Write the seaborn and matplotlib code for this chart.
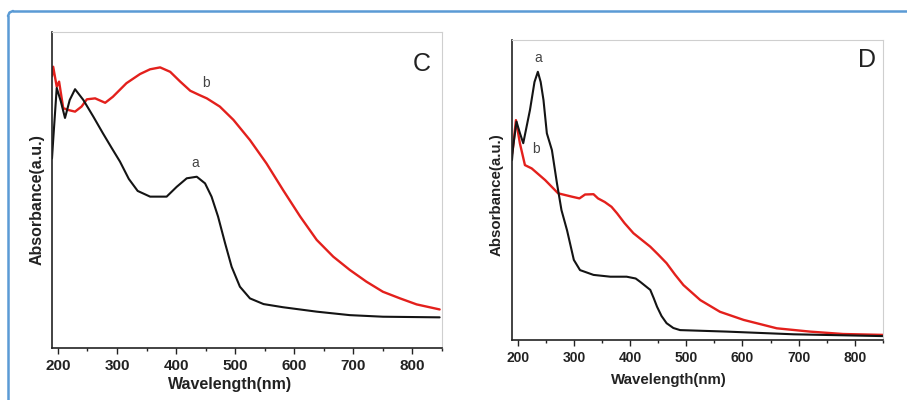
import numpy as np
import pandas as pd
import matplotlib
matplotlib.use("Agg")
import matplotlib.pyplot as plt
from matplotlib.lines import Line2D
from matplotlib.patches import Arc
import seaborn as sns

sns.set_style("white")
plt.rcParams['font.family'] = ['Liberation Sans', 'DejaVu Sans']

# ---------------- data (panel C) ----------------
wl_C_a = [190, 192, 198, 205, 212, 220, 229, 243, 260, 276, 291, 305, 320, 335, 356, 384,
          401, 418, 435, 449, 460, 471, 483, 494, 508, 525, 548, 581, 638, 694, 750, 846]
abs_C_a = [0.60, 0.658, 0.823, 0.78, 0.728, 0.785, 0.819, 0.785, 0.732, 0.680, 0.633,
           0.590, 0.535, 0.497, 0.479, 0.479, 0.510, 0.537, 0.542, 0.521, 0.479, 0.416,
           0.331, 0.257, 0.194, 0.157, 0.139, 0.129, 0.115, 0.104, 0.099, 0.097]

wl_C_b = [190, 192, 198, 202, 209, 218, 229, 240, 249, 263, 280, 293, 316, 339, 356, 373,
          390, 407, 424, 440, 452, 474, 497, 525, 553, 581, 610, 638, 666, 694, 722, 750,
          779, 807, 846]
abs_C_b = [0.86, 0.890, 0.827, 0.843, 0.759, 0.753, 0.748, 0.764, 0.787, 0.790, 0.776,
           0.795, 0.838, 0.867, 0.882, 0.888, 0.874, 0.843, 0.814, 0.800, 0.790, 0.764,
           0.722, 0.658, 0.584, 0.500, 0.416, 0.342, 0.289, 0.247, 0.210, 0.178, 0.157,
           0.138, 0.122]

# ---------------- data (panel D) ----------------
wl_D_a = [190, 192, 198, 204, 210, 222, 230, 236, 241, 246, 252, 261, 270, 278, 288,
          300, 311, 335, 365, 394, 410, 418, 436, 442, 448, 456, 465, 477, 489, 572, 691, 850]
abs_D_a = [0.60, 0.644, 0.728, 0.69, 0.656, 0.767, 0.86, 0.894, 0.86, 0.80, 0.689, 0.633,
           0.522, 0.433, 0.365, 0.267, 0.233, 0.217, 0.211, 0.211, 0.205, 0.194, 0.167,
           0.14, 0.111, 0.08, 0.056, 0.040, 0.033, 0.028, 0.019, 0.013]

wl_D_b = [190, 192, 197, 204, 213, 225, 249, 272, 296, 310, 320, 335, 343, 355, 367, 377,
          390, 406, 420, 436, 450, 465, 480, 495, 525, 560, 602, 661, 720, 779, 850]
abs_D_b = [0.62, 0.644, 0.733, 0.656, 0.583, 0.572, 0.533, 0.489, 0.478, 0.472, 0.485,
           0.486, 0.472, 0.46, 0.444, 0.422, 0.39, 0.356, 0.335, 0.311, 0.285, 0.256,
           0.218, 0.183, 0.133, 0.094, 0.067, 0.039, 0.028, 0.020, 0.017]

xticks = [200, 300, 400, 500, 600, 700, 800]
xtick_labels = ["200", "300", "400", "500", "600", "700", "800"]

BLACK = "#141414"
RED = "#e3201c"

W, H = 907, 400
fig = plt.figure(figsize=(W / 100, H / 100), dpi=100)
fig.patch.set_facecolor("white")


def px_axes(x0, y0, x1, y1):
    return fig.add_axes([x0 / W, 1 - y1 / H, (x1 - x0) / W, (y1 - y0) / H])


axC = px_axes(52, 32, 442, 348)
axD = px_axes(512, 40, 883, 340)


def style(ax, fs_tick):
    ax.set_xlim(190, 850)
    ax.set_ylim(0, 1)
    ax.set_yticks([])
    ax.set_xticks(xticks)
    ax.set_xticklabels(xtick_labels, fontsize=fs_tick, fontweight="bold", color="#222222")
    ax.set_xticks([250, 350, 450, 550, 650, 750, 850], minor=True)
    ax.tick_params(axis="x", which="major", direction="out", length=4, width=1.0,
                   color="#222222", pad=4, bottom=True)
    ax.tick_params(axis="x", which="minor", direction="out", length=2.5, width=1.0,
                   color="#222222", bottom=True)
    for s in ["left", "bottom"]:
        ax.spines[s].set_color("#222222")
        ax.spines[s].set_linewidth(1.2)
    for s in ["top", "right"]:
        ax.spines[s].set_color("#cfcfcf")
        ax.spines[s].set_linewidth(0.8)
    ax.set_xlabel("")
    ax.set_ylabel("")
    ax.set_facecolor("white")


dfCa = pd.DataFrame({"wl": wl_C_a, "A": abs_C_a})
dfCb = pd.DataFrame({"wl": wl_C_b, "A": abs_C_b})
dfDa = pd.DataFrame({"wl": wl_D_a, "A": abs_D_a})
dfDb = pd.DataFrame({"wl": wl_D_b, "A": abs_D_b})

sns.lineplot(data=dfCb, x="wl", y="A", ax=axC, color=RED, lw=1.7, legend=False)
sns.lineplot(data=dfCa, x="wl", y="A", ax=axC, color=BLACK, lw=1.5, legend=False)
sns.lineplot(data=dfDb, x="wl", y="A", ax=axD, color=RED, lw=1.7, legend=False)
sns.lineplot(data=dfDa, x="wl", y="A", ax=axD, color=BLACK, lw=1.5, legend=False)

style(axC, 11)
style(axD, 10)

# curve / panel labels
axC.text(450, 0.84, "b", fontsize=10, color="#444444", ha="center", va="center")
axC.text(432, 0.585, "a", fontsize=10, color="#444444", ha="center", va="center")
axC.text(815, 0.90, "C", fontsize=18, color="#222222", ha="center", va="center")
axD.text(236, 0.939, "a", fontsize=10, color="#444444", ha="center", va="center")
axD.text(233, 0.637, "b", fontsize=10, color="#444444", ha="center", va="center")
axD.text(821, 0.933, "D", fontsize=18, color="#222222", ha="center", va="center")

# axis titles
fig.text(230 / W, 1 - 385 / H, "Wavelength(nm)", fontsize=11.5, fontweight="bold",
         color="#222222", ha="center", va="center")
fig.text(669 / W, 1 - 380 / H, "Wavelength(nm)", fontsize=10.8, fontweight="bold",
         color="#222222", ha="center", va="center")
fig.text(37 / W, 1 - 200 / H, "Absorbance(a.u.)", fontsize=11.5, fontweight="bold",
         color="#222222", ha="center", va="center", rotation=90)
fig.text(497 / W, 1 - 195 / H, "Absorbance(a.u.)", fontsize=10.8, fontweight="bold",
         color="#222222", ha="center", va="center", rotation=90)

# blue frame (top and left edges with rounded corner)
BLUE = "#5b9bd5"
r = 5
fig.add_artist(Line2D([(8 + r) / W, 1.0], [1 - 11 / H, 1 - 11 / H],
                      transform=fig.transFigure, color=BLUE, lw=1.8))
fig.add_artist(Line2D([8 / W, 8 / W], [1 - (11 + r) / H, 0.0],
                      transform=fig.transFigure, color=BLUE, lw=1.8))
fig.add_artist(Line2D([8 / W, (8 + 1.5) / W, (8 + r) / W],
                      [1 - (11 + r) / H, 1 - (11 + 1.5) / H, 1 - 11 / H],
                      transform=fig.transFigure, color=BLUE, lw=1.8))

fig.savefig("out.png", dpi=100, facecolor="white")
